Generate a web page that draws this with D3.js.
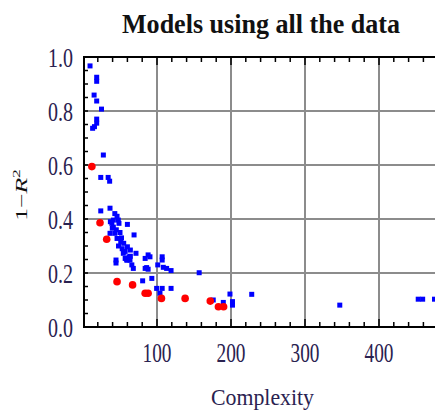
<!DOCTYPE html>
<html>
<head>
<meta charset="utf-8">
<script src="https://cdn.jsdelivr.net/npm/d3@7"></script>
<style>
  body { margin: 0; background: #fff; }
  svg text { font-family: "Liberation Serif", "DejaVu Serif", serif; }
</style>
</head>
<body>
<svg id="chart" width="435" height="410"></svg>
<script>
// all models (blue squares)
var blueComplexity = [9.5, 18.5, 18.5, 15, 18.5, 25, 18.5, 18.5, 13, 15.5, 27.5, 24, 34, 36,
	24, 36.5, 37, 39, 41, 36.5, 47.7, 48.6, 60, 69, 39.6, 43, 46, 51, 55, 60, 64,
	44.6, 44.6, 54.5, 57, 59, 63.5, 66, 68, 71.6, 84, 88, 90.5, 84, 86, 88, 93, 80.6,
	99.5, 107, 119, 104, 107, 107, 101, 108.5, 113, 119, 157, 176, 189.6, 198.6, 202,
	202, 228, 347, 453, 459, 475, 41, 45, 50, 52, 48, 53, 57, 62, 43, 46, 55, 60, 64];
var blueError = [0.967, 0.925, 0.91, 0.859, 0.837, 0.807, 0.77, 0.755, 0.736, 0.742, 0.637, 0.554, 0.554, 0.54,
	0.43, 0.44, 0.39, 0.384, 0.396, 0.347, 0.396, 0.384, 0.38, 0.341, 0.366, 0.347, 0.328, 0.316, 0.31, 0.297, 0.285,
	0.248, 0.237, 0.273, 0.254, 0.248, 0.248, 0.23, 0.217, 0.273, 0.254, 0.267, 0.26, 0.217, 0.22, 0.214, 0.18, 0.171,
	0.143, 0.143, 0.143, 0.125, 0.26, 0.248, 0.23, 0.221, 0.217, 0.209, 0.201, 0.1, 0.091, 0.122, 0.094,
	0.081, 0.121, 0.081, 0.103, 0.103, 0.103, 0.37, 0.36, 0.35, 0.33, 0.30, 0.29, 0.28, 0.26, 0.42, 0.41, 0.279, 0.248, 0.262];

// pareto front (red dots)
var redComplexity = [12, 23, 32, 46, 67, 84, 88, 106, 138, 172, 183, 190];
var redError = [0.594, 0.386, 0.325, 0.168, 0.156, 0.125, 0.125, 0.106, 0.106, 0.096, 0.075, 0.075];

var xTicks = [100, 200, 300, 400];
var yTicks = [0.0, 0.2, 0.4, 0.6, 0.8, 1.0];

var svg = d3.select("#chart");

var x = d3.scaleLinear().domain([0, 500]).range([83, 453]);
var y = d3.scaleLinear().domain([0, 1]).range([327, 57]);

// grid
var grid = svg.append("g").attr("class", "grid")
	.attr("stroke", "#8c8c8c").attr("stroke-width", 2);

grid.selectAll("line.gx").data(xTicks).enter().append("line")
	.attr("class", "gx")
	.attr("x1", function(d) { return x(d); })
	.attr("x2", function(d) { return x(d); })
	.attr("y1", y(1)).attr("y2", y(0));

grid.selectAll("line.gy").data(yTicks.filter(function(d) { return d > 0 && d < 1; })).enter().append("line")
	.attr("class", "gy")
	.attr("x1", x(0)).attr("x2", x(500))
	.attr("y1", function(d) { return y(d); })
	.attr("y2", function(d) { return y(d); });

// frame ticks (pointing inward, like Mathematica)
var xMinor = d3.range(20, 500, 20);
var yMinor = d3.range(0.05, 1, 0.05);

var ticks = svg.append("g").attr("stroke", "#000").attr("stroke-width", 1.5);

ticks.selectAll("line.bx").data(xMinor).enter().append("line")
	.attr("x1", function(d) { return x(d); })
	.attr("x2", function(d) { return x(d); })
	.attr("y1", y(0))
	.attr("y2", function(d) { return y(0) - (d % 100 === 0 ? 8 : 5); });

ticks.selectAll("line.tx").data(xMinor).enter().append("line")
	.attr("x1", function(d) { return x(d); })
	.attr("x2", function(d) { return x(d); })
	.attr("y1", y(1))
	.attr("y2", function(d) { return y(1) + (d % 100 === 0 ? 8 : 5); });

ticks.selectAll("line.ly").data(yMinor).enter().append("line")
	.attr("x1", x(0))
	.attr("x2", function(d) { return x(0) + 5; })
	.attr("y1", function(d) { return y(d); })
	.attr("y2", function(d) { return y(d); });

// frame
svg.append("rect")
	.attr("x", x(0) + 1).attr("y", y(1))
	.attr("width", x(500) - x(0)).attr("height", y(0) - y(1))
	.attr("fill", "none").attr("stroke", "#000").attr("stroke-width", 2);

// points
svg.append("g").selectAll("rect").data(blueComplexity).enter().append("rect")
	.attr("x", function(d) { return x(d) - 2.5; })
	.attr("y", function(d, i) { return y(blueError[i]) - 2.5; })
	.attr("width", 5).attr("height", 5)
	.attr("fill", "#0000ff");

svg.append("g").selectAll("circle").data(redComplexity).enter().append("circle")
	.attr("cx", function(d) { return x(d); })
	.attr("cy", function(d, i) { return y(redError[i]); })
	.attr("r", 3.8)
	.attr("fill", "#ff0000");

// tick labels
svg.append("g").selectAll("text").data(yTicks).enter().append("text")
	.attr("x", 73)
	.attr("y", function(d) { return y(d) + 9.5; })
	.attr("text-anchor", "end")
	.attr("font-size", 27)
	.attr("fill", "#2a2250")
	.attr("textLength", 25).attr("lengthAdjust", "spacingAndGlyphs")
	.text(function(d) { return d.toFixed(1); });

svg.append("g").selectAll("text").data(xTicks).enter().append("text")
	.attr("x", function(d) { return x(d); })
	.attr("y", 362)
	.attr("text-anchor", "middle")
	.attr("font-size", 27)
	.attr("fill", "#2a2250")
	.attr("textLength", 29).attr("lengthAdjust", "spacingAndGlyphs")
	.text(function(d) { return d; });

// titles
svg.append("text")
	.attr("x", 261).attr("y", 33)
	.attr("text-anchor", "middle")
	.attr("font-size", 28).attr("font-weight", "bold")
	.attr("fill", "#111")
	.attr("textLength", 278).attr("lengthAdjust", "spacingAndGlyphs")
	.text("Models using all the data");

svg.append("text")
	.attr("x", 262.5).attr("y", 405)
	.attr("text-anchor", "middle")
	.attr("font-size", 23)
	.attr("fill", "#2a2250")
	.attr("textLength", 103).attr("lengthAdjust", "spacingAndGlyphs")
	.text("Complexity");

var ylab = svg.append("text")
	.attr("transform", "translate(27,195) rotate(-90) scale(1.6,1)")
	.attr("text-anchor", "middle")
	.attr("font-size", 16)
	.attr("fill", "#111");
ylab.append("tspan").text("1\u2212");
ylab.append("tspan").attr("font-style", "italic").text("R");
ylab.append("tspan").attr("font-size", 11).attr("dy", -7).text("2");
</script>
</body>
</html>
